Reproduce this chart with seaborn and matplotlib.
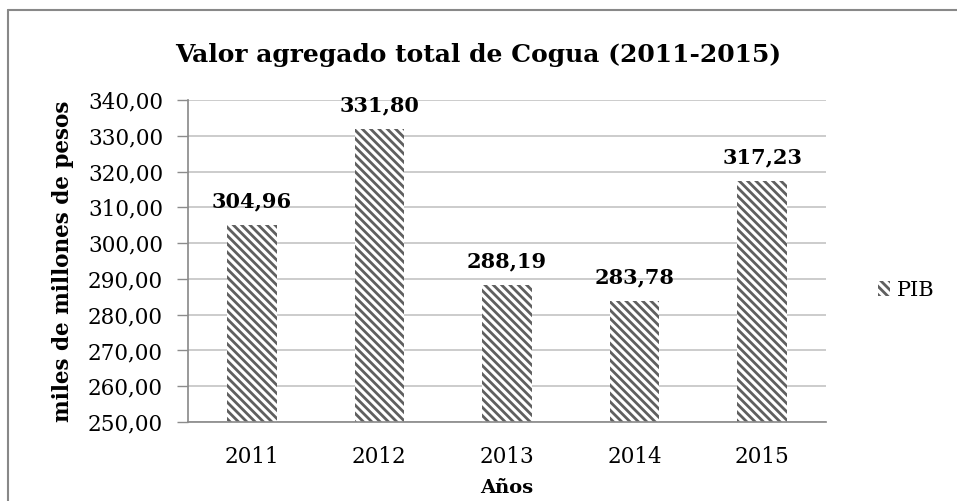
import numpy as np
import pandas as pd
import matplotlib
matplotlib.use("Agg")
import matplotlib.pyplot as plt
from matplotlib.lines import Line2D
from matplotlib.patches import Patch
import seaborn as sns

YEARS = ["2011", "2012", "2013", "2014", "2015"]
PIB = [304.96, 331.80, 288.19, 283.78, 317.23]
Y_TICKS = [250, 260, 270, 280, 290, 300, 310, 320, 330, 340]

HATCH_COLOR = "#5f5f5f"
GRID_COLOR = "#bfbfbf"
HATCH = "\\" * 4

sns.set_theme(style="white")
plt.rcParams["font.family"] = ["DejaVu Serif"]
plt.rcParams["text.color"] = "black"
plt.rcParams["axes.labelcolor"] = "black"
plt.rcParams["xtick.color"] = "black"
plt.rcParams["ytick.color"] = "black"
plt.rcParams["hatch.linewidth"] = 2.0
plt.rcParams["hatch.color"] = HATCH_COLOR


def fmt(v):
    return f"{v:.2f}".replace(".", ",")


df = pd.DataFrame({"Año": YEARS, "PIB": PIB})

fig = plt.figure(figsize=(9.57, 5.01), dpi=100)
ax = fig.add_axes([188 / 957, 1 - 422 / 501, (826 - 188) / 957, (422 - 100) / 501])

sns.barplot(data=df, x="Año", y="PIB", color="white", width=0.39,
            edgecolor=HATCH_COLOR, linewidth=0, ax=ax)
for bar in ax.patches:
    bar.set_hatch(HATCH)
    bar.set_facecolor("white")
    bar.set_edgecolor(HATCH_COLOR)
    bar.set_linewidth(0)

ax.set_ylim(250, 340)
ax.set_yticks(Y_TICKS)
ax.set_yticklabels([fmt(t) for t in Y_TICKS], fontsize=15.5)
ax.tick_params(axis="x", labelsize=15.5, length=0, pad=17)
ax.tick_params(axis="y", length=8, width=1, color="#8c8c8c", direction="out", pad=10, left=True)
ax.grid(axis="y", color=GRID_COLOR, linewidth=1.1)
ax.set_axisbelow(True)

for side in ["top", "right"]:
    ax.spines[side].set_visible(False)
ax.spines["left"].set_color("#8c8c8c")
ax.spines["bottom"].set_color("#8c8c8c")

for bar, v in zip(ax.patches, PIB):
    ax.annotate(fmt(v), xy=(bar.get_x() + bar.get_width() / 2, v),
                xytext=(0, 10), textcoords="offset points",
                ha="center", va="bottom", fontsize=15, fontweight="bold")

ax.set_xlabel("Años", fontsize=14, fontweight="bold", labelpad=8)
ax.set_ylabel("miles de millones de pesos", fontsize=15.5, fontweight="bold", labelpad=10)

fig.text(0.5, 1 - 55 / 501, "Valor agregado total de Cogua (2011-2015)",
         ha="center", va="center", fontsize=18, fontweight="bold")

handle = Patch(facecolor="white", edgecolor=HATCH_COLOR, hatch=HATCH, linewidth=0)
fig.legend(handles=[handle], labels=["PIB"], loc="center left",
           bbox_to_anchor=(859 / 957, 1 - 290 / 501), frameon=False,
           fontsize=15, handlelength=0.6, handleheight=0.7, handletextpad=0.3)

# outer chart border (only top and left are visible in the crop)
fig.add_artist(Line2D([8 / 957, 1], [1 - 10 / 501, 1 - 10 / 501], color="#888888", linewidth=1.5))
fig.add_artist(Line2D([8 / 957, 8 / 957], [0, 1 - 10 / 501], color="#888888", linewidth=1.5))

fig.savefig("out.png", dpi=100)
